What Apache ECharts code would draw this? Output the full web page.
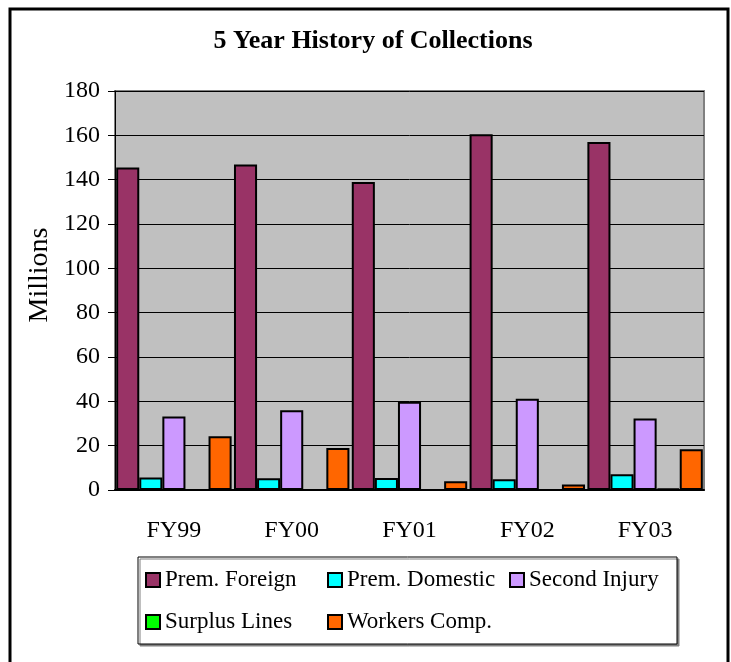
<!DOCTYPE html>
<html>
<head>
<meta charset="utf-8">
<script src="https://cdn.jsdelivr.net/npm/echarts@6/dist/echarts.min.js"></script>
<style>
  html, body { margin: 0; padding: 0; background: #fff; }
  #chart { width: 731px; height: 662px; }
</style>
</head>
<body>
<div id="chart"></div>
<script>
// 数据放在顶层 方便修改
var years = ['FY99', 'FY00', 'FY01', 'FY02', 'FY03'];
var premForeign = [145.5, 146.8, 139, 160.5, 157];
var premDomestic = [5.6, 5.3, 5.4, 4.8, 7.1];
var secondInjury = [33.2, 36, 39.8, 41.2, 32.3];
var surplusLines = [0, 0, 0, 0, 0.6];
var workersComp = [24.3, 19, 4, 2.5, 18.4];
var yTicks = [0, 20, 40, 60, 80, 100, 120, 140, 160, 180];

var seriesNames = ['Prem. Foreign', 'Prem. Domestic', 'Second Injury', 'Surplus Lines', 'Workers Comp.'];
var seriesColors = ['#993366', '#00FFFF', '#CC99FF', '#00FF00', '#FF6600'];
var seriesData = [premForeign, premDomestic, secondInjury, surplusLines, workersComp];

var font = '"Liberation Serif", "Times New Roman", serif';

var chartDom = document.getElementById('chart');
var myChart = echarts.init(chartDom);

var series = seriesNames.map(function (name, i) {
  return {
    name: name,
    type: 'bar',
    data: seriesData[i],
    barGap: '0%',
    barCategoryGap: '2%',
    itemStyle: { color: seriesColors[i], borderColor: '#000', borderWidth: 2 }
  };
});

var option = {
  animation: false,
  backgroundColor: '#fff',
  title: {
    text: '5 Year History of Collections',
    left: 368,
    textAlign: 'center',
    top: 23,
    textStyle: { fontFamily: font, fontWeight: 'bold', fontSize: 26, color: '#000' }
  },
  grid: {
    left: 115, right: 27, top: 91, bottom: 172,
    show: true, backgroundColor: '#C0C0C0', borderColor: '#808080', borderWidth: 2
  },
  // 图例外框用 graphic 画, 图例本身只负责排列
  legend: {
    left: 138, top: 559,
    width: 560,
    padding: [0, 0, 0, 7],
    itemGap: 0,
    itemWidth: 14, itemHeight: 14,
    icon: 'rect',
    z: 10,
    textStyle: { fontFamily: font, fontSize: 23, color: '#000', width: 162, lineHeight: 42, height: 42 },
    data: seriesNames
  },
  xAxis: {
    type: 'category',
    data: years,
    axisLine: { lineStyle: { color: '#000', width: 2 } },
    axisTick: { length: 7, lineStyle: { color: '#000' } },
    axisLabel: { fontFamily: font, fontSize: 24, color: '#000', margin: 29 }
  },
  yAxis: {
    type: 'value',
    min: 0, max: yTicks[yTicks.length - 1], interval: yTicks[1] - yTicks[0],
    axisLine: { show: true, lineStyle: { color: '#000', width: 1 } },
    axisTick: { show: true, length: 7, lineStyle: { color: '#000' } },
    axisLabel: { fontFamily: font, fontSize: 24, color: '#000', margin: 15 },
    splitLine: { lineStyle: { color: '#000', width: 1 } }
  },
  graphic: [{
    type: 'rect',
    shape: { x: 10, y: 9, width: 718, height: 700 },
    style: { fill: 'none', stroke: '#000', lineWidth: 3 },
    silent: true
  }, {
    type: 'rect',
    shape: { x: 138, y: 557, width: 539, height: 87 },
    style: { fill: '#fff', stroke: '#000', lineWidth: 1, shadowColor: '#808080', shadowOffsetX: 2, shadowOffsetY: 2, shadowBlur: 0 },
    z: 1,
    silent: true
  }, {
    type: 'text',
    x: 40, y: 275,
    rotation: Math.PI / 2,
    style: { text: 'Millions', font: '28px ' + font, fill: '#000', align: 'center', verticalAlign: 'middle' },
    silent: true
  }],
  series: series
};

option && myChart.setOption(option);
</script>
</body>
</html>
